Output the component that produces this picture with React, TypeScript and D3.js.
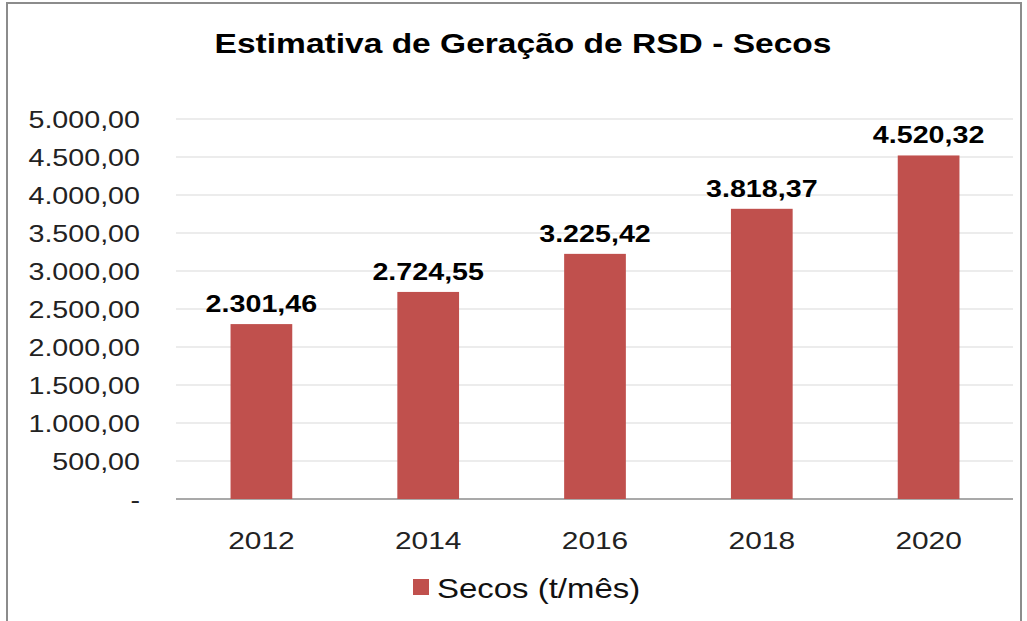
import React from 'react';
import * as d3 from 'd3';

const years = ['2012', '2014', '2016', '2018', '2020'];
const secos = [2301.46, 2724.55, 3225.42, 3818.37, 4520.32];
const yTicks = [0, 500, 1000, 1500, 2000, 2500, 3000, 3500, 4000, 4500, 5000];
const chartTitle = 'Estimativa de Geração de RSD - Secos';
const seriesName = 'Secos (t/mês)';

const W = 1027;
const H = 621;
const BAR = '#C0504D';
const FONT = 'Liberation Sans, Arial, sans-serif';
const SX = 1.22; // the source picture is stretched a bit sideways

const ptBR = d3.formatLocale({ decimal: ',', thousands: '.', grouping: [3], currency: ['R$', ''] });
const fmt = ptBR.format(',.2f');

const App = () => {
  const x = d3.scaleBand<string>().domain(years).range([178, 1012]).paddingInner(0.63).paddingOuter(0.315);
  const y = d3.scaleLinear().domain([0, 5000]).range([499, 119]);

  const label = (tx: number, ty: number, text: string, opts: any = {}) => (
    <text
      transform={`translate(${tx},${ty}) scale(${SX},1)`}
      fontFamily={FONT}
      fill="#000"
      {...opts}
    >
      {text}
    </text>
  );

  return (
    <svg width={W} height={H} style={{ position: 'absolute', left: 0, top: 0, background: '#fff' }}>
      <rect x={7} y={3} width={1014} height={640} fill="#fff" stroke="#8c8c8c" strokeWidth={2} />

      {label(523, 53, chartTitle, { textAnchor: 'middle', fontSize: 27.5, fontWeight: 'bold' })}

      {/* grid */}
      {yTicks.map((t) => (
        <line key={t} x1={176} x2={1013} y1={y(t)} y2={y(t)}
          stroke={t === 0 ? '#8c8c8c' : '#d9d9d9'} strokeWidth={t === 0 ? 1.5 : 1.2} />
      ))}

      {/* y ticks */}
      {yTicks.map((t) => (
        <g key={'l' + t}>
          {label(140, y(t) + 8.5, t === 0 ? '-' : fmt(t), { textAnchor: 'end', fontSize: 23.5, fill: '#222' })}
        </g>
      ))}

      {/* bars */}
      {secos.map((v, i) => (
        <rect key={years[i]} x={x(years[i])} y={y(v)} width={x.bandwidth()} height={y(0) - y(v)} fill={BAR} />
      ))}

      {/* data labels */}
      {secos.map((v, i) => (
        <g key={'d' + i}>
          {label((x(years[i]) as number) + x.bandwidth() / 2, y(v) - 12, fmt(v),
            { textAnchor: 'middle', fontSize: 23.5, fontWeight: 'bold' })}
        </g>
      ))}

      {/* x labels */}
      {years.map((yr) => (
        <g key={'x' + yr}>
          {label((x(yr) as number) + x.bandwidth() / 2, 549, yr, { textAnchor: 'middle', fontSize: 24.5, fill: '#222' })}
        </g>
      ))}

      {/* legend */}
      <rect x={413} y={579} width={16} height={16} fill={BAR} />
      {label(437, 598, seriesName, { fontSize: 27, fill: '#111' })}
    </svg>
  );
};

export default App;
